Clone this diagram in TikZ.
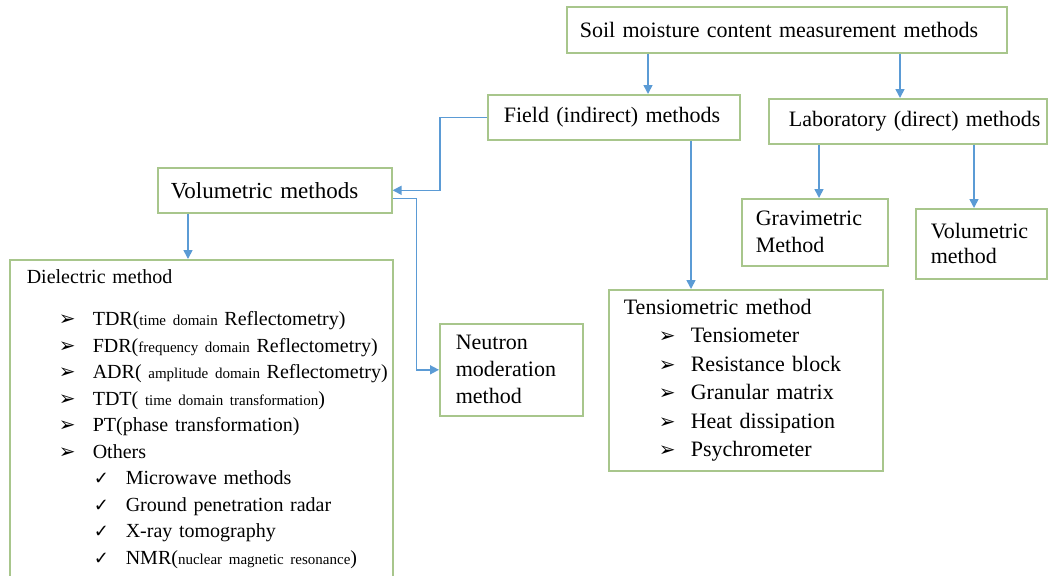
\documentclass[tikz,border=0pt]{standalone}
\usepackage{fontspec}
\setmainfont{Liberation Serif}
\newfontfamily\bulletfont{DejaVu Sans}
\usetikzlibrary{arrows.meta}
\definecolor{boxgreen}{RGB}{168,198,140}
\definecolor{linkblue}{RGB}{91,155,213}

\newcommand{\arrbullet}{{\bulletfont\fontsize{10}{10}\selectfont ➢}}
\newcommand{\chkbullet}{{\bulletfont\fontsize{9}{9}\selectfont ✓}}
\newcommand{\smalltxt}[1]{{\fontsize{7.5}{8}\selectfont #1}}
% list lines of the Dielectric and Tensiometric boxes
\newcommand{\ditem}[1]{\mbox{\hspace*{16pt}\makebox[17pt][l]{\arrbullet}#1}}
\newcommand{\dcheck}[1]{\mbox{\hspace*{33.5pt}\makebox[16pt][l]{\chkbullet}#1}}
\newcommand{\titem}[1]{\mbox{\hspace*{17.5pt}\makebox[16pt][l]{\arrbullet}#1}}

\begin{document}
\begin{tikzpicture}[x=0.5pt, y=-0.5pt,
    box/.style={draw=boxgreen, line width=0.8pt, anchor=north west, align=left, inner ysep=0pt,
      font=\fontsize{11}{13.5}\selectfont, execute at begin node={\hyphenpenalty=10000}},
    arrow/.style={-{Triangle[length=4.5pt, width=4.5pt]}, draw=linkblue, line width=0.8pt}
]
\useasboundingbox (0,0) rectangle (1048,575);

\node[box, text width=207pt, inner xsep=6.5pt, minimum height=23pt] (soil) at (566,6) {\mbox{Soil moisture content measurement methods}};
\node[box, text width=110pt, inner xsep=8pt, minimum height=22.5pt] (field) at (487,94) {\mbox{Field (indirect) methods}};
\node[box, text width=119pt, inner xsep=10pt, minimum height=22.5pt] (lab) at (768,98) {\mbox{Laboratory (direct) methods}};
\node[box, text width=104pt, inner xsep=6.5pt, minimum height=22.5pt, font=\fontsize{11.5}{13.5}\selectfont] (vols) at (157,167) {\mbox{Volumetric methods}};
\node[box, text width=59pt, inner xsep=7pt, minimum height=33.5pt] (grav) at (741,198) {Gravimetric\\Method};
\node[box, text width=50.5pt, inner xsep=7.5pt, minimum height=35pt, font=\fontsize{11}{12.5}\selectfont] (volm) at (915,208) {Volumetric\\method};
\node[box, text width=55.5pt, inner xsep=8pt, minimum height=46pt] (neut) at (439,323) {Neutron\\moderation\\method};

\node[box, text width=174.5pt, inner xsep=8.5pt, minimum height=159.5pt, font=\fontsize{10}{13.25}\selectfont] (diel) at (9,259) {
  Dielectric method\\[7.75pt]
  \ditem{TDR(\smalltxt{time domain} Reflectometry)}\\
  \ditem{FDR(\smalltxt{frequency domain} Reflectometry)}\\
  \ditem{ADR(\smalltxt{ amplitude domain} Reflectometry)}\\
  \ditem{TDT(\smalltxt{ time domain transformation})}\\
  \ditem{PT(phase transformation)}\\
  \ditem{Others}\\
  \dcheck{Microwave methods}\\
  \dcheck{Ground penetration radar}\\
  \dcheck{X-ray tomography}\\
  \dcheck{NMR(\smalltxt{nuclear magnetic resonance})}};

\node[box, text width=122pt, inner xsep=7.5pt, minimum height=90.5pt, font=\fontsize{11}{14.2}\selectfont] (tens) at (608,289) {
  Tensiometric method\\
  \titem{Tensiometer}\\
  \titem{Resistance block}\\
  \titem{Granular matrix}\\
  \titem{Heat dissipation}\\
  \titem{Psychrometer}};

\draw[arrow] (soil.south -| 648,0) -- (field.north -| 648,0);
\draw[arrow] (soil.south -| 900,0) -- (lab.north -| 900,0);
\draw[arrow] (field.west) -- ++(-47,0) |- (vols.east);
\draw[arrow] ([yshift=-4pt]vols.east) -- ++(24,0) |- (neut.west);
\draw[arrow] (vols.south -| 188,0) -- (diel.north -| 188,0);
\draw[arrow] (field.south -| 691,0) -- (tens.north -| 691,0);
\draw[arrow] (lab.south -| 819,0) -- (grav.north -| 819,0);
\draw[arrow] (lab.south -| 974,0) -- (volm.north -| 974,0);
\end{tikzpicture}
\end{document}
